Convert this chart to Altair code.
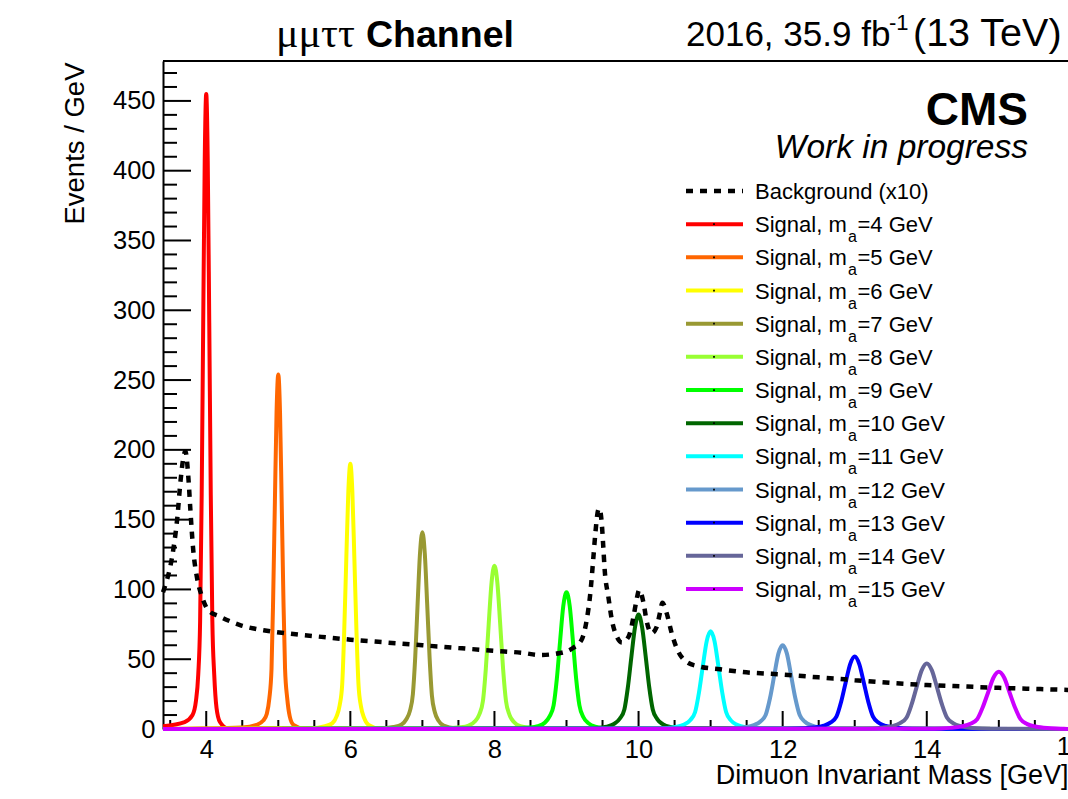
import altair as alt
import pandas as pd

# ---------------- data ----------------
masses = [4, 5, 6, 7, 8, 9, 10, 11, 12, 13, 14, 15]
colors = ["#ff0000", "#ff6600", "#ffff00", "#999933", "#99ff33", "#00ff00",
          "#006600", "#00ffff", "#6699cc", "#0000ff", "#666699", "#cc00ff"]

sig4_x = [3.40, 3.70, 3.81, 3.857, 3.889, 3.915, 3.937, 3.958, 3.979, 4.00, 4.021, 4.042, 4.063, 4.085, 4.111, 4.143, 4.19, 4.30, 15.96]
sig4_y = [2, 5, 10, 20, 39, 77, 168, 291, 407, 455, 407, 291, 168, 77, 39, 15, 5, 0.5, 0]
sig5_x = [3.40, 4.50, 4.70, 4.79, 4.841, 4.876, 4.906, 4.929, 4.953, 4.976, 5.00, 5.024, 5.047, 5.071, 5.094, 5.124, 5.159, 5.21, 5.35, 15.96]
sig5_y = [0, 1, 3, 6, 11, 22, 43, 94, 163, 227, 254, 227, 163, 94, 43, 22, 9, 3, 0.5, 0]
sig6_x = [3.40, 5.45, 5.65, 5.748, 5.809, 5.852, 5.887, 5.915, 5.944, 5.972, 6.00, 6.028, 6.056, 6.085, 6.113, 6.148, 6.191, 6.252, 6.40, 15.96]
sig6_y = [0, 0.5, 2, 4, 9, 17, 32, 70, 122, 170, 190, 170, 122, 70, 32, 16, 8, 3, 0.5, 0]
sig7_x = [3.40, 6.40, 6.60, 6.706, 6.777, 6.827, 6.868, 6.901, 6.934, 6.967, 7.00, 7.033, 7.066, 7.099, 7.132, 7.173, 7.223, 7.294, 7.45, 15.96]
sig7_y = [0, 0.5, 1.5, 3, 7, 13, 25, 52, 90, 126, 141, 126, 90, 52, 24, 12, 6, 2.4, 0.5, 0]
sig8_x = [3.40, 7.30, 7.52, 7.643, 7.73, 7.79, 7.84, 7.88, 7.92, 7.96, 8.00, 8.04, 8.08, 8.12, 8.16, 8.21, 8.27, 8.357, 8.55, 15.96]
sig8_y = [0, 0.5, 1.2, 2.5, 5.5, 10.5, 20, 43, 75, 105, 117, 105, 75, 43, 20, 10, 5, 2, 0.4, 0]
sig9_x = [3.40, 8.25, 8.48, 8.601, 8.698, 8.765, 8.821, 8.866, 8.911, 8.955, 9.00, 9.045, 9.089, 9.134, 9.179, 9.235, 9.302, 9.399, 9.60, 15.96]
sig9_y = [0, 0.4, 1, 2, 4.5, 9, 17, 36, 63, 88, 98, 88, 63, 36, 17, 8.4, 4.2, 1.7, 0.3, 0]
sig10_x = [3.40, 9.20, 9.45, 9.559, 9.666, 9.741, 9.803, 9.852, 9.901, 9.951, 10.00, 10.049, 10.099, 10.148, 10.197, 10.259, 10.334, 10.441, 10.65, 15.96]
sig10_y = [0, 0.3, 0.8, 1.6, 3.8, 7.5, 14, 30, 52, 73, 82, 73, 52, 30, 14, 7.1, 3.5, 1.4, 0.3, 0]
sig11_x = [3.40, 10.15, 10.40, 10.517, 10.634, 10.716, 10.784, 10.838, 10.892, 10.946, 11.00, 11.054, 11.108, 11.162, 11.216, 11.284, 11.366, 11.483, 11.70, 15.96]
sig11_y = [0, 0.3, 0.7, 1.4, 3.2, 6.3, 12, 26, 45, 63, 70, 63, 45, 26, 12, 6, 3, 1.2, 0.3, 0]
sig12_x = [3.40, 11.10, 11.35, 11.475, 11.602, 11.691, 11.765, 11.824, 11.882, 11.941, 12.00, 12.059, 12.118, 12.176, 12.235, 12.309, 12.398, 12.525, 12.75, 15.96]
sig12_y = [0, 0.2, 0.6, 1.2, 2.8, 5.4, 10.2, 22, 38, 54, 60, 54, 38, 22, 10.2, 5.2, 2.6, 1.0, 0.2, 0]
sig13_x = [3.40, 12.05, 12.30, 12.433, 12.571, 12.667, 12.746, 12.81, 12.873, 12.937, 13.00, 13.063, 13.127, 13.19, 13.254, 13.333, 13.429, 13.567, 13.80, 15.96]
sig13_y = [0, 0.2, 0.5, 1.0, 2.4, 4.7, 8.8, 19.2, 33, 46.5, 52, 46.5, 33, 19.2, 8.8, 4.5, 2.2, 0.9, 0.2, 0]
sig14_x = [3.40, 13.00, 13.25, 13.37, 13.523, 13.629, 13.718, 13.788, 13.859, 13.929, 14.00, 14.071, 14.141, 14.212, 14.282, 14.371, 14.477, 14.63, 14.90, 15.96]
sig14_y = [0, 0.2, 0.4, 0.9, 2.1, 4.2, 8, 17.4, 30, 42, 47, 42, 30, 17.4, 8, 4, 2, 0.8, 0.2, 0]
sig15_x = [3.40, 14.00, 14.20, 14.328, 14.491, 14.605, 14.699, 14.774, 14.85, 14.925, 15.00, 15.075, 15.15, 15.226, 15.301, 15.395, 15.509, 15.672, 15.90, 15.96]
sig15_y = [0, 0.2, 0.4, 0.8, 1.9, 3.7, 7, 15.2, 26, 36.7, 41, 36.7, 26, 15.2, 7, 3.5, 1.8, 0.7, 0.2, 0]

bg_x = [3.40, 3.45, 3.50, 3.55, 3.60, 3.64, 3.685, 3.71, 3.755, 3.78, 3.82, 3.87, 3.94, 4.03, 4.19,
        4.47, 4.84, 5.21, 5.60, 6.00, 6.50, 7.00, 7.50, 8.00, 8.40, 8.63, 8.91, 9.09, 9.21, 9.28,
        9.33, 9.37, 9.40, 9.44, 9.455, 9.49, 9.51, 9.53, 9.58, 9.63, 9.70, 9.77, 9.86, 9.93, 9.97,
        10.01, 10.07, 10.11, 10.18, 10.25, 10.30, 10.33, 10.39, 10.46, 10.53, 10.67, 10.85, 11.13,
        11.41, 12.00, 12.50, 13.00, 13.50, 14.00, 14.50, 15.00, 15.50, 15.96]
bg_y = [98, 106, 116, 131, 152, 176, 195, 199, 178, 157, 128, 109, 95, 85, 80.5,
        74.5, 70.4, 68, 66, 64, 62, 60, 58, 56, 54.5, 53, 54.4, 58, 64, 78,
        97, 121, 140, 157, 158, 147, 131, 114, 95, 78, 66, 62, 66, 80.5, 92,
        99.6, 90, 78, 68.6, 73, 84, 90.5, 83, 68.6, 57.8, 48, 44.7, 42.8,
        41, 39, 37, 35, 33, 31.5, 30.5, 29.5, 28.7, 28]

x_label_values = [4, 6, 8, 10, 12, 14]
x_major_ticks = [4, 6, 8, 10, 12, 14]
x_minor_ticks = [3.5, 4.5, 5, 5.5, 6.5, 7, 7.5, 8.5, 9, 9.5, 10.5, 11, 11.5,
                 12.5, 13, 13.5, 14.5, 15, 15.5]
y_label_values = [0, 50, 100, 150, 200, 250, 300, 350, 400, 450]
y_major_ticks = y_label_values
y_minor_ticks = [v for v in range(10, 480, 10) if v % 50 != 0]

sig_x = [sig4_x, sig5_x, sig6_x, sig7_x, sig8_x, sig9_x, sig10_x, sig11_x, sig12_x, sig13_x, sig14_x, sig15_x]
sig_y = [sig4_y, sig5_y, sig6_y, sig7_y, sig8_y, sig9_y, sig10_y, sig11_y, sig12_y, sig13_y, sig14_y, sig15_y]

# ---------------- layout ----------------
W, H = 905, 668
xscale = alt.Scale(domain=[3.4, 15.96], nice=False, zero=False)
yscale = alt.Scale(domain=[0, 478.6], nice=False, zero=False)

xaxis = alt.Axis(values=x_label_values, grid=False, ticks=False, tickSize=0,
                 domain=True, domainColor="black", domainWidth=2,
                 labelFontSize=25.5, labelPadding=8, labelColor="black",
                 labelFont="Liberation Sans",
                 title="Dimuon Invariant Mass [GeV]", titleFontSize=27,
                 titleFontWeight="normal", titleColor="black",
                 titleFont="Liberation Sans",
                 titleX=W, titleY=54, titleAlign="right", titleBaseline="alphabetic",
                 titleAngle=0)
yaxis = alt.Axis(values=y_label_values, grid=False, ticks=False, tickSize=0,
                 domain=True, domainColor="black", domainWidth=2,
                 labelFontSize=25.5, labelPadding=8, labelColor="black",
                 labelFont="Liberation Sans",
                 title="Events / GeV", titleFontSize=27.5,
                 titleFontWeight="normal", titleColor="black",
                 titleFont="Liberation Sans",
                 titleX=-80, titleY=1, titleAlign="right", titleBaseline="alphabetic",
                 titleAngle=270)

layers = []

# inward tick marks
xt = pd.DataFrame({"v": x_major_ticks + x_minor_ticks,
                   "len": [18] * len(x_major_ticks) + [9] * len(x_minor_ticks)})
xt["y0"] = H
xt["y1"] = H - xt["len"]
layers.append(alt.Chart(xt).mark_rule(color="black", strokeWidth=2).encode(
    x=alt.X("v:Q", scale=xscale, axis=xaxis),
    y=alt.Y("y0:Q", scale=None, axis=None), y2="y1"))

yt = pd.DataFrame({"v": y_major_ticks + y_minor_ticks,
                   "len": [28] * len(y_major_ticks) + [14] * len(y_minor_ticks)})
yt["x0"] = 0
yt["x1"] = yt["len"]
layers.append(alt.Chart(yt).mark_rule(color="black", strokeWidth=2).encode(
    y=alt.Y("v:Q", scale=yscale, axis=yaxis),
    x=alt.X("x0:Q", scale=None, axis=None), x2="x1"))

# signal curves
for m, c, sx, sy in zip(masses, colors, sig_x, sig_y):
    assert len(sx) == len(sy)
    df = pd.DataFrame({"x": sx, "y": sy})
    layers.append(alt.Chart(df).mark_line(color=c, strokeWidth=4, interpolate="monotone").encode(
        x=alt.X("x:Q", scale=xscale, axis=xaxis),
        y=alt.Y("y:Q", scale=yscale, axis=yaxis)))

# background curve
assert len(bg_x) == len(bg_y)
bg = pd.DataFrame({"x": bg_x, "y": bg_y})
layers.append(alt.Chart(bg).mark_line(color="black", strokeWidth=4.5, strokeDash=[7, 7],
                                      strokeCap="butt", interpolate="monotone").encode(
    x=alt.X("x:Q", scale=xscale, axis=xaxis),
    y=alt.Y("y:Q", scale=yscale, axis=yaxis)))

# top frame line
one = pd.DataFrame({"a": [0]})
layers.append(alt.Chart(one).mark_rule(color="black", strokeWidth=2).encode(
    x=alt.value(0), x2=alt.value(W), y=alt.value(0)))

# partial "16" label at right edge
layers.append(alt.Chart(pd.DataFrame({"v": [16], "t": ["16"]})).mark_text(
    fontSize=25.5, align="center", baseline="alphabetic", color="black").encode(
    x=alt.X("v:Q", scale=xscale, axis=xaxis), y=alt.value(694), text="t:N"))

# legend
row0 = 130.0
step = 33.17
leg_sig = pd.DataFrame({
    "main": ["Signal, m"] * len(masses),
    "sub": ["a"] * len(masses),
    "rest": ["=%d GeV" % m for m in masses],
    "color": colors,
    "yp": [row0 + step * (i + 1) for i in range(len(masses))],
})
leg_bg = pd.DataFrame({"main": ["Background (x10)"], "yp": [row0]})

layers.append(alt.Chart(leg_bg).mark_rule(color="black", strokeWidth=4.5, strokeDash=[7, 7],
                                          strokeCap="butt").encode(
    x=alt.value(523), x2=alt.value(580), y=alt.Y("yp:Q", scale=None, axis=None)))
layers.append(alt.Chart(leg_sig).mark_rule(strokeWidth=4).encode(
    x=alt.value(523), x2=alt.value(580), y=alt.Y("yp:Q", scale=None, axis=None),
    color=alt.Color("color:N", scale=None, legend=None)))
layers.append(alt.Chart(leg_sig).mark_point(shape="square", filled=True, size=3,
                                            color="black", opacity=1).encode(
    x=alt.value(551), y=alt.Y("yp:Q", scale=None, axis=None)))
for df in (leg_bg, leg_sig):
    layers.append(alt.Chart(df).mark_text(fontSize=22, align="left", baseline="alphabetic",
                                          dy=8, color="black").encode(
        x=alt.value(592), y=alt.Y("yp:Q", scale=None, axis=None), text="main:N"))
layers.append(alt.Chart(leg_sig).mark_text(fontSize=16, align="left", baseline="alphabetic",
                                           dy=18, color="black").encode(
    x=alt.value(685), y=alt.Y("yp:Q", scale=None, axis=None), text="sub:N"))
layers.append(alt.Chart(leg_sig).mark_text(fontSize=22, align="left", baseline="alphabetic",
                                           dy=8, color="black").encode(
    x=alt.value(694.5), y=alt.Y("yp:Q", scale=None, axis=None), text="rest:N"))


def label(text, x, y, size, align="left", font="Liberation Sans", weight="normal", style="normal"):
    return alt.Chart(pd.DataFrame({"t": [text]})).mark_text(
        fontSize=size, align=align, baseline="alphabetic", font=font,
        fontWeight=weight, fontStyle=style, color="black").encode(
        x=alt.value(x), y=alt.value(y), text="t:N")


# titles and annotations (positions relative to plot origin at 163,61)
layers.append(label("μμττ", 113, -14, 42, font="Liberation Serif"))
layers.append(label("Channel", 203, -14, 37.5, weight="bold"))
layers.append(label("2016, 35.9 fb", 523, -15, 35))
layers.append(label("-1", 726, -31, 22))
layers.append(label("(13 TeV)", 750, -15, 39.5))
layers.append(label("CMS", 865, 64, 46, align="right", weight="bold"))
layers.append(label("Work in progress", 865, 97, 33.5, align="right", style="italic"))

chart = alt.layer(*layers).properties(
    width=W, height=H,
    autosize=alt.AutoSizeParams(type="none"),
    padding={"left": 163, "top": 61, "right": 0, "bottom": 70},
    background="white",
).configure(font="Liberation Sans").configure_view(stroke=None)

chart.save("out.html", embed_options={"renderer": "svg", "actions": False})
